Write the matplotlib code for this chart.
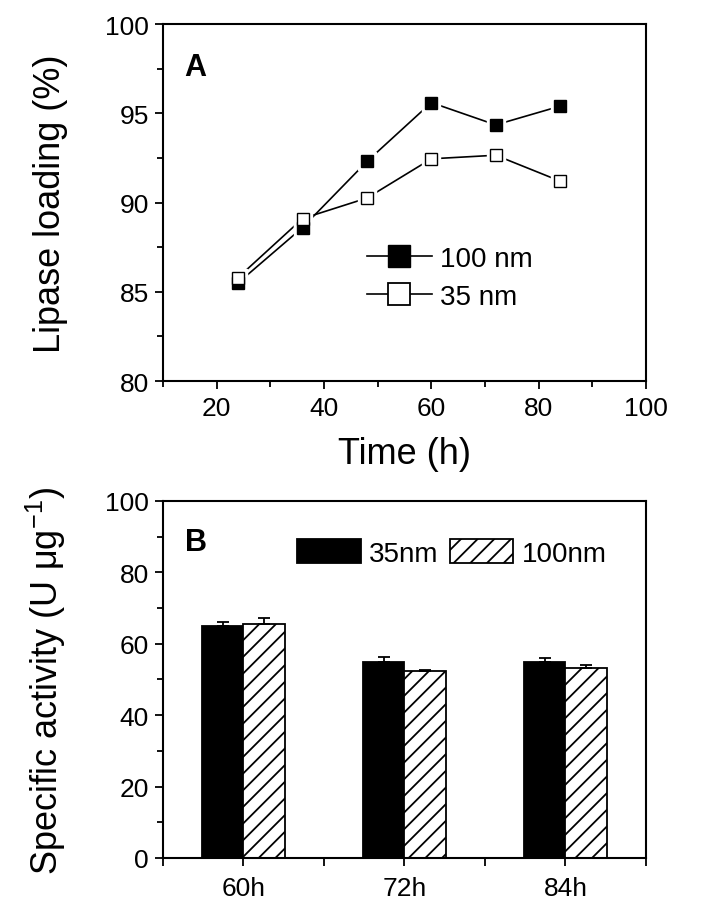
import matplotlib
matplotlib.use("Agg")
import matplotlib.pyplot as plt
import numpy as np
from matplotlib.lines import Line2D
from matplotlib.ticker import MultipleLocator

plt.rcParams['font.family'] = ['Liberation Sans', 'DejaVu Sans']
plt.rcParams['hatch.linewidth'] = 1.3

# Panel A data
time_h = [24, 36, 48, 60, 72, 84]
load_100nm = [85.5, 88.6, 92.3, 95.6, 94.35, 95.4]
load_35nm = [85.8, 89.1, 90.25, 92.45, 92.65, 91.2]

# Panel B data
categories = ["60h", "72h", "84h"]
act_35nm = [65.0, 54.8, 54.9]
err_35nm = [1.1, 1.5, 1.1]
act_100nm = [65.5, 52.3, 53.1]
err_100nm = [1.6, 0.4, 1.0]

fig = plt.figure(figsize=(7.01, 9.04), dpi=100)
axA = fig.add_axes([0.2325, 0.5774, 0.689, 0.3949])
axB = fig.add_axes([0.2325, 0.0498, 0.689, 0.3949])

tick_fs = 19
label_fs = 26

for ax in (axA, axB):
    for s in ax.spines.values():
        s.set_linewidth(1.5)
    ax.tick_params(axis='both', which='both', direction='out', top=False, right=False,
                   labelsize=tick_fs, width=1.3)
    ax.tick_params(axis='y', which='both', pad=4)
    ax.tick_params(axis='x', which='both', pad=5)
    ax.tick_params(which='major', length=6)
    ax.tick_params(which='minor', length=4)

# ---- Panel A ----
for y, face in ((load_100nm, 'black'), (load_35nm, 'white')):
    axA.plot(time_h, y, color='black', lw=1.2, zorder=2)
    axA.plot(time_h, y, ls='none', marker='s', ms=13, mfc='white', mec='white', zorder=3)
for y, face in ((load_100nm, 'black'), (load_35nm, 'white')):
    axA.plot(time_h, y, ls='none', marker='s', ms=8.5, mfc=face, mec='black', mew=1.0, zorder=4)

axA.set_xlim(10, 100)
axA.set_ylim(80, 100)
axA.xaxis.set_major_locator(MultipleLocator(20))
axA.xaxis.set_minor_locator(MultipleLocator(10))
axA.yaxis.set_major_locator(MultipleLocator(5))
axA.yaxis.set_minor_locator(MultipleLocator(2.5))
axA.set_xlabel("Time (h)", fontsize=label_fs, labelpad=11)
axA.set_ylabel("Lipase loading (%)", fontsize=label_fs, labelpad=27)
axA.text(0.045, 0.88, "A", transform=axA.transAxes, fontsize=22, fontweight='bold', va='center')

hA = [Line2D([], [], color='black', lw=1.2, marker='s', ms=16, mfc='black', mec='black'),
      Line2D([], [], color='black', lw=1.2, marker='s', ms=16, mfc='white', mec='black', mew=1.3)]
axA.legend(hA, ["100 nm", "35 nm"], loc='center left', bbox_to_anchor=(0.422, 0.289),
           frameon=False, fontsize=20, handlelength=2.35, handletextpad=0.3,
           labelspacing=0.42, borderpad=0, borderaxespad=0)

# ---- Panel B ----
x = np.arange(1, len(categories) + 1)
w = 0.255
axB.bar(x - w / 2, act_35nm, width=w, color='black', edgecolor='black', lw=1.3,
        yerr=[np.zeros(3), err_35nm], error_kw=dict(ecolor='black', elinewidth=1.3, capsize=4, capthick=1.3),
        label="35nm", zorder=2)
axB.bar(x + w / 2, act_100nm, width=w, color='white', edgecolor='black', lw=1.3, hatch='//',
        yerr=[np.zeros(3), err_100nm], error_kw=dict(ecolor='black', elinewidth=1.3, capsize=4, capthick=1.3),
        label="100nm", zorder=2)
axB.set_xlim(0.5, 3.5)
axB.set_ylim(0, 100)
axB.set_xticks(x)
axB.set_xticklabels(categories)
axB.xaxis.set_minor_locator(MultipleLocator(0.5))
axB.yaxis.set_major_locator(MultipleLocator(20))
axB.yaxis.set_minor_locator(MultipleLocator(10))
axB.tick_params(axis='x', which='minor', length=6)
axB.tick_params(axis='x', which='major', pad=7)
axB.set_ylabel(r"Specific activity (U $\mathregular{\mu g^{-1}}$)", fontsize=label_fs, labelpad=27)
axB.text(0.045, 0.885, "B", transform=axB.transAxes, fontsize=22, fontweight='bold', va='center')
axB.legend(loc='center left', bbox_to_anchor=(0.277, 0.854), ncol=2, frameon=False, fontsize=20,
           handlelength=2.3, handleheight=0.94, handletextpad=0.3, columnspacing=0.4,
           borderpad=0, borderaxespad=0)

fig.savefig("out.png", dpi=100)
